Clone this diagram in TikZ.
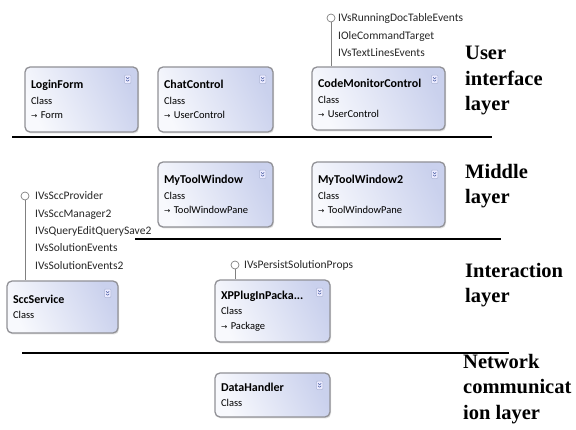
\documentclass[tikz,border=0pt]{standalone}
\usepackage{fontspec}
\setmainfont{Liberation Serif}
\newfontfamily\uifont{Carlito}
\newfontfamily\symfont{DejaVu Sans}
\usetikzlibrary{shadows}
\definecolor{boxlight}{RGB}{248,249,253}
\definecolor{boxdark}{RGB}{202,209,237}
\definecolor{boxedge}{RGB}{145,145,150}
\definecolor{iconblue}{RGB}{70,90,160}
\newcommand{\ctitle}[1]{{\fontsize{12}{12}\selectfont\bfseries #1}\\[1pt]}
\newcommand{\inherit}{{\symfont\fontsize{7.5}{7.5}\selectfont →}\ }
\begin{document}
\begin{tikzpicture}[x=1pt,y=-1pt,
    cls/.style={draw=boxedge,line width=1.3pt,rounded corners=5pt,
      left color=boxlight,right color=boxdark,shading angle=115,
      drop shadow={shadow xshift=1pt,shadow yshift=-1.5pt,opacity=0.25},
      inner xsep=6pt,align=left,font=\uifont\fontsize{10.5}{14.5}\selectfont},
    expander/.style={draw=iconblue!45,fill=blue!8,rounded corners=1pt,
      minimum width=6.5pt,minimum height=8.5pt,inner sep=0pt},
    lolli/.style={circle,draw=gray,fill=white,line width=0.7pt,
      minimum size=8pt,inner sep=0pt},
    iface/.style={anchor=base west,inner sep=0pt,text=black!85,
      font=\uifont\fontsize{11.5}{12}\selectfont},
    layer/.style={anchor=north west,inner sep=0pt,align=left,
      font=\fontsize{20.5}{25.5}\selectfont\bfseries},
    sep/.style={line width=1.6pt}]
  \useasboundingbox (0,0) rectangle (576,430);

  % user interface layer
  \node[cls,text width=101pt,minimum height=65pt] (login) at (81.5,99.5)
    {\ctitle{LoginForm}Class\\\inherit Form};
  \node[cls,text width=103pt,minimum height=65pt] (chat) at (215.5,99.5)
    {\ctitle{ChatControl}Class\\\inherit UserControl};
  \node[cls,text width=121pt,minimum height=63pt] (code) at (378.5,98.5)
    {\ctitle{CodeMonitorControl}Class\\\inherit UserControl};
  \node[layer] (ui) at (465,46) {User\\interface\\layer};
  \draw[sep] (12,137) -- (492,137);

  % middle layer
  \node[cls,text width=103pt,minimum height=65pt] (tw) at (215.5,194.5)
    {\ctitle{MyToolWindow}Class\\\inherit ToolWindowPane};
  \node[cls,text width=121pt,minimum height=65pt] (tw2) at (378.5,194.5)
    {\ctitle{MyToolWindow2}Class\\\inherit ToolWindowPane};
  \node[layer] (mid) at (465,164) {Middle\\layer};
  \draw[sep] (135,239) -- (501,239);

  % interaction layer
  \node[cls,text width=99pt,minimum height=52pt] (scc) at (62.5,307)
    {\ctitle{SccService}Class};
  \node[cls,text width=103pt,minimum height=62pt] (xpp) at (272.5,311)
    {\ctitle{XPPlugInPacka...}Class\\\inherit Package};
  \node[layer] (inter) at (465,263) {Interaction\\layer};
  \draw[sep] (22,353) -- (509,353);

  % network communication layer
  \node[cls,text width=103pt,minimum height=44pt] (data) at (272.5,395)
    {\ctitle{DataHandler}Class};
  \node[layer] (net) at (463,354) {Network\\communicat\\ion layer};

  % expander icons
  \foreach \b in {login,chat,code,tw,tw2,scc,xpp,data}{
    \node[expander] (\b-x) at ([shift={(-11,13)}]\b.north east) {};
    \draw[iconblue,line width=0.5pt] ([shift={(-1.6,-2)}]\b-x.center)
      -- ++(1.6,1.4) -- ++(1.6,-1.4);
    \draw[iconblue,line width=0.5pt] ([shift={(-1.6,0.5)}]\b-x.center)
      -- ++(1.6,1.4) -- ++(1.6,-1.4);
  }

  % provided interfaces
  \node[lolli] (code-i) at (331,18) {};
  \draw[gray,line width=0.9pt] (code-i.south) -- (code-i.south |- code.north);
  \foreach \t [count=\k from 0] in {IVsRunningDocTableEvents,IOleCommandTarget,IVsTextLinesEvents}
    \node[iface] (code-if\k) at (338,{22+17.5*\k}) {\t};

  \node[lolli] (scc-i) at (25,196) {};
  \draw[gray,line width=0.9pt] (scc-i.south) -- (scc-i.south |- scc.north);
  \foreach \t [count=\k from 0] in {IVsSccProvider,IVsSccManager2,IVsQueryEditQuerySave2,IVsSolutionEvents,IVsSolutionEvents2}
    \node[iface] (scc-if\k) at (35,{200+17.3*\k}) {\t};

  \node[lolli] (xpp-i) at (235,265) {};
  \draw[gray,line width=0.9pt] (xpp-i.south) -- (xpp-i.south |- xpp.north);
  \node[iface] (xpp-if0) at (244,269) {IVsPersistSolutionProps};
\end{tikzpicture}
\end{document}
